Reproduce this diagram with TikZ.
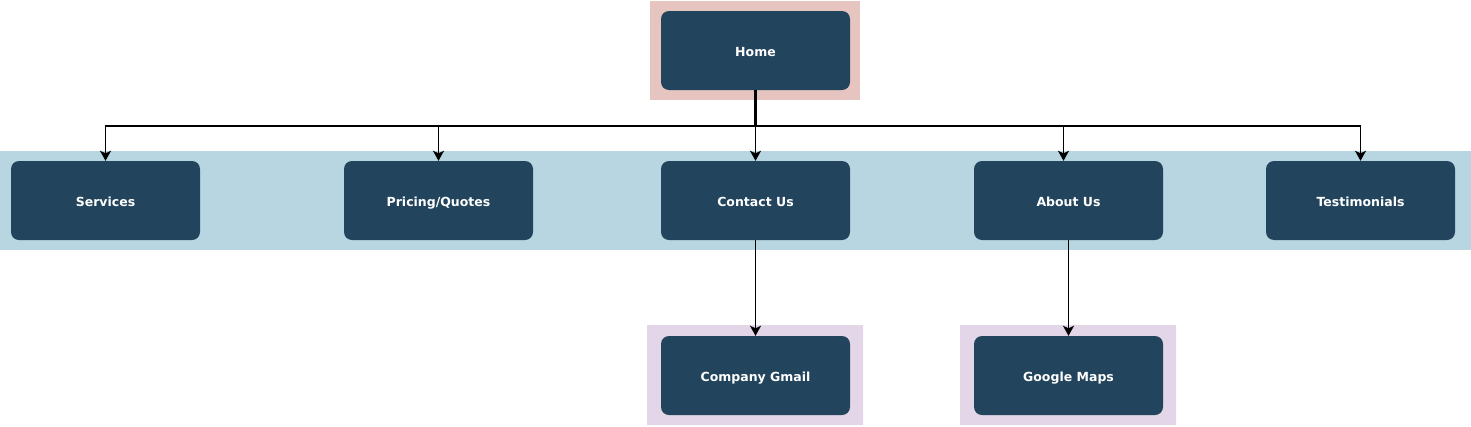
\documentclass[tikz,border=0pt]{standalone}
\usepackage{fontspec}
\setmainfont{DejaVu Sans}
\usetikzlibrary{positioning,arrows.meta}
\definecolor{pagefill}{HTML}{23445D}
\definecolor{homeback}{HTML}{E6C4BF}
\definecolor{bandback}{HTML}{B8D5E2}
\definecolor{subback}{HTML}{E2D6E8}
\begin{document}
\begin{tikzpicture}[x=1pt,y=-1pt,
  page/.style={fill=pagefill,rounded corners=8pt,minimum width=189pt,minimum height=79pt,inner sep=0pt,text height=13pt,text depth=2pt,text=white,font=\fontsize{12.5}{14}\selectfont\bfseries},
  link/.style={line width=1.6pt,-{Stealth[length=10pt,width=11pt,inset=2.5pt]}}]
\useasboundingbox (0,0) rectangle (1471,426);
\fill[homeback] (650,1) rectangle (860,100);
\fill[bandback] (0,151) rectangle (1471,250);
\fill[subback] (647,325) rectangle (863,425) (960,325) rectangle (1176,425);
\node[page] (home) at (755.5,50.5) {Home};
\node[page] (services) at (105.5,200.5) {Services};
\node[page] (pricing) at (438.5,200.5) {Pricing/Quotes};
\node[page] (contact) at (755.5,200.5) {Contact Us};
\node[page] (about) at (1068.5,200.5) {About Us};
\node[page] (testimonials) at (1360.5,200.5) {Testimonials};
\node[page] (gmail) at (755.5,375.5) {Company Gmail};
\node[page] (maps) at (1068.5,375.5) {Google Maps};
\coordinate (bus) at (755.5,126);
\draw[line width=2.6pt] (home.south) -- (bus);
\draw[link] (bus) -| (services.north);
\draw[link] (bus) -| (pricing.north);
\draw[link] (bus) -- (contact.north);
\draw[link] (bus) -| ([xshift=-5pt]about.north);
\draw[link] (bus) -| (testimonials.north);
\draw[link] (contact.south) -- (gmail.north);
\draw[link] (about.south) -- (maps.north);
\end{tikzpicture}
\end{document}
